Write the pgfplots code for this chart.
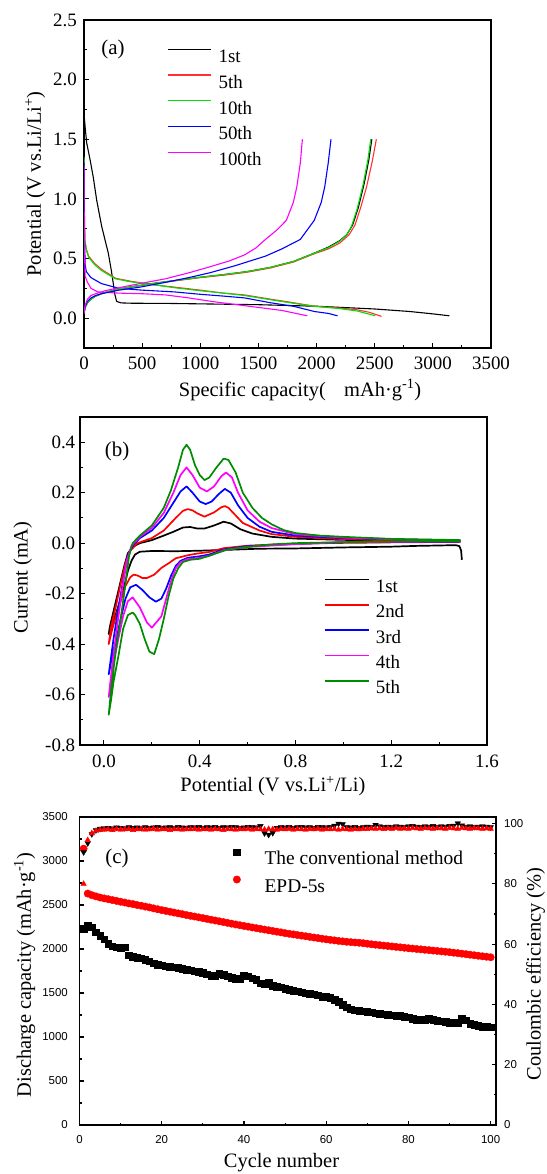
\documentclass[border=0pt]{standalone}
\usepackage{pgfplots}
\usepackage{pgfplotstable}
\pgfplotsset{compat=1.18}
\usepackage{fontspec}
\setmainfont{Liberation Serif}
\newfontfamily\sansf{Liberation Sans}
\definecolor{ared}{RGB}{255,50,50}
\definecolor{agreen}{RGB}{0,225,0}
\definecolor{bgreen}{RGB}{0,140,0}
\definecolor{mag}{RGB}{255,0,255}

\pgfplotstableread{
n conv epd ceconv ceepd
1 2230 3140 90.5 80.0
2 2270 2630 93.5 94.5
3 2250 2612 96.5 96.8
4 2190 2598 97.8 97.6
5 2150 2585 98.3 97.9
6 2110 2575 98.5 98.0
7 2060 2566 98.6 98.1
8 2030 2556 98.4 97.9
9 2020 2547 98.7 98.2
10 2015 2537 98.6 98.0
11 2020 2528 98.5 98.1
12 1930 2518 98.8 98.2
13 1910 2510 98.6 97.9
14 1900 2500 98.7 98.1
15 1895 2492 98.5 98.2
16 1880 2482 98.8 98.0
17 1860 2473 98.6 98.1
18 1840 2462 98.7 98.3
19 1825 2452 98.9 98.0
20 1815 2442 98.6 98.2
21 1805 2433 98.7 98.1
22 1800 2424 98.8 97.9
23 1795 2414 98.6 98.2
24 1790 2405 98.9 98.1
25 1775 2396 98.7 98.0
26 1765 2386 98.6 98.2
27 1760 2377 98.8 98.1
28 1750 2369 98.7 98.3
29 1745 2360 98.9 98.0
30 1730 2351 98.6 98.2
31 1715 2342 98.8 98.1
32 1700 2333 98.7 98.0
33 1695 2324 98.9 98.2
34 1720 2315 98.6 98.1
35 1710 2306 98.8 97.9
36 1690 2297 98.7 98.2
37 1675 2288 98.9 98.1
38 1665 2279 98.8 98.0
39 1660 2270 98.6 98.2
40 1700 2262 98.7 98.1
41 1690 2254 98.9 98.3
42 1670 2245 98.8 98.0
43 1650 2237 98.7 98.2
44 1610 2229 99.2 98.1
45 1600 2221 96.8 98.0
46 1620 2213 96.3 98.2
47 1580 2205 96.9 98.1
48 1570 2197 98.6 98.0
49 1565 2189 98.8 98.2
50 1550 2180 98.7 98.1
51 1535 2173 98.9 98.3
52 1525 2166 98.6 98.0
53 1520 2159 98.8 98.2
54 1510 2152 98.9 98.1
55 1500 2145 98.7 98.0
56 1495 2138 98.8 98.2
57 1485 2131 98.6 98.1
58 1475 2124 98.9 98.3
59 1460 2117 98.8 98.0
60 1455 2110 98.7 98.2
61 1445 2104 98.9 98.1
62 1425 2098 99.3 98.2
63 1400 2092 100.0 98.0
64 1370 2087 99.8 98.2
65 1340 2082 98.8 98.1
66 1315 2078 98.7 98.0
67 1305 2074 98.9 98.2
68 1300 2071 98.6 98.1
69 1295 2066 98.8 98.3
70 1290 2060 99.0 98.2
71 1280 2054 98.9 98.4
72 1270 2049 99.6 98.3
73 1265 2044 99.1 98.4
74 1260 2039 98.9 98.2
75 1255 2034 99.0 98.4
76 1250 2029 98.8 98.3
77 1245 2024 99.1 98.5
78 1240 2019 99.0 98.3
79 1230 2014 98.9 98.4
80 1225 2009 99.1 98.3
81 1210 2005 99.2 98.5
82 1200 2000 99.0 98.4
83 1200 1996 98.9 98.3
84 1200 1991 99.1 98.5
85 1205 1987 99.0 98.4
86 1195 1982 99.2 98.3
87 1185 1978 98.9 98.5
88 1180 1973 99.1 98.4
89 1175 1969 99.0 98.3
90 1165 1964 99.2 98.5
91 1160 1958 99.3 98.4
92 1160 1953 100.1 98.3
93 1215 1947 99.4 98.5
94 1190 1941 99.0 98.4
95 1150 1935 99.1 98.3
96 1140 1929 98.9 98.5
97 1130 1923 99.0 98.4
98 1120 1917 99.1 98.3
99 1115 1912 99.0 98.4
100 1110 1906 98.8 98.3
}\cyc

\pgfplotsset{
  base/.style={
    scale only axis,
    axis line style={line width=1.3bp},
    tick style={line width=1.1bp, black},
    major tick length=4.5bp, minor tick length=2.5bp,
    tick align=inside,
    /pgf/number format/assume math mode=true,
    /pgf/number format/1000 sep={},
    ticklabel style={font=\fontsize{19}{20}\selectfont},
    label style={font=\fontsize{20.5}{22}\selectfont},
    legend cell align=left,
  }
}

\begin{document}
\begin{tikzpicture}
\useasboundingbox (0,0) rectangle (547bp,1174bp);

% ---------------- (a) ----------------
\begin{axis}[base, at={(84bp,826bp)}, anchor=south west, width=407bp, height=328bp,
  xmin=0, xmax=3500, ymin=-0.25, ymax=2.5,
  xtick={0,500,1000,1500,2000,2500,3000,3500},
  minor xtick={250,750,1250,1750,2250,2750,3250},
  ytick={0,0.5,1,1.5,2,2.5}, minor ytick={0.25,0.75,1.25,1.75,2.25},
  xtick pos=bottom, ytick pos=left,
  y tick label style={/pgf/number format/.cd, fixed, fixed zerofill, precision=1, /tikz/.cd, inner sep=0pt, xshift=-7bp},
  x tick label style={inner sep=0pt, yshift=-9bp},
  xlabel={Specific capacity(\hspace{0.9em}mAh·g\textsuperscript{-1})},
  ylabel={Potential (V vs.Li/Li\textsuperscript{+})},
  xlabel style={at={(axis description cs:0.531,-0.128)}, anchor=center},
  ylabel style={at={(axis description cs:-0.120,0.5)}, anchor=center},
  legend style={at={(axis description cs:0.205,0.9125)}, anchor=north west, draw=none, fill=none,
    inner sep=0pt, outer sep=0pt, row sep=11.7bp,
    font=\fontsize{19}{20}\selectfont,
    nodes={inner sep=0pt, text height=13bp, text depth=0bp},
    /tikz/every odd column/.append style={column sep=7bp}},
  legend image code/.code={\draw[#1] (0bp,7bp) -- (43bp,7bp);},
  every axis plot/.append style={line width=1.1bp, line join=round},
]
\addplot[black] coordinates {(0,1.72)(10,1.6)(23,1.47)(52,1.33)(80,1.18)(109,0.99)(152,0.77)(209,0.545)(235,0.40)(252,0.29)(265,0.2)(281,0.14)(320,0.128)(420,0.125)(700,0.124)(1000,0.12)(1500,0.113)(2000,0.1)(2500,0.077)(2800,0.056)(3000,0.036)(3141,0.02)};
\addlegendentry{1st}
\addplot[ared] coordinates {(0,1.33)(3,0.9)(8,0.65)(20,0.58)(40,0.52)(90,0.46)(150,0.41)(270,0.335)(400,0.31)(600,0.28)(780,0.26)(1000,0.235)(1200,0.21)(1380,0.195)(1600,0.16)(1800,0.13)(1980,0.10)(2200,0.085)(2350,0.07)(2450,0.05)(2559,0.015)};
\addlegendentry{5th}
\addplot[agreen] coordinates {(0,1.35)(3,0.9)(8,0.65)(20,0.57)(40,0.51)(90,0.45)(150,0.40)(270,0.33)(400,0.305)(600,0.28)(780,0.255)(1000,0.23)(1200,0.21)(1380,0.19)(1600,0.155)(1800,0.125)(1980,0.10)(2200,0.08)(2350,0.06)(2505,0.02)};
\addlegendentry{10th}
\addplot[blue] coordinates {(0,1.30)(3,0.75)(10,0.45)(20,0.39)(60,0.34)(150,0.29)(300,0.25)(500,0.235)(780,0.22)(1000,0.20)(1200,0.185)(1380,0.17)(1600,0.13)(1800,0.1)(1980,0.056)(2100,0.04)(2180,0.02)};
\addlegendentry{50th}
\addplot[mag] coordinates {(0,1.28)(3,0.6)(10,0.35)(30,0.30)(60,0.25)(120,0.22)(300,0.21)(500,0.205)(700,0.195)(900,0.17)(1100,0.14)(1300,0.115)(1500,0.09)(1700,0.065)(1920,0.02)};
\addlegendentry{100th}
% charge branches
\addplot[black, forget plot] coordinates {(0,0.04)(10,0.09)(30,0.13)(60,0.16)(100,0.185)(150,0.205)(200,0.22)(300,0.245)(400,0.262)(600,0.292)(800,0.318)(1000,0.343)(1200,0.365)(1400,0.39)(1600,0.425)(1800,0.475)(1980,0.545)(2100,0.595)(2200,0.65)(2260,0.70)(2310,0.78)(2360,0.93)(2410,1.13)(2450,1.33)(2475,1.50)};
\addplot[ared, forget plot] coordinates {(0,0.04)(10,0.09)(30,0.13)(60,0.16)(100,0.185)(150,0.205)(200,0.22)(300,0.245)(400,0.26)(600,0.29)(800,0.315)(1000,0.34)(1200,0.36)(1400,0.385)(1600,0.42)(1800,0.47)(1980,0.54)(2100,0.58)(2200,0.63)(2280,0.70)(2330,0.78)(2380,0.93)(2430,1.10)(2480,1.32)(2514,1.50)};
\addplot[agreen, forget plot] coordinates {(0,0.04)(10,0.09)(30,0.13)(60,0.16)(100,0.185)(150,0.205)(200,0.22)(300,0.245)(400,0.262)(600,0.292)(800,0.318)(1000,0.343)(1200,0.365)(1400,0.39)(1600,0.425)(1800,0.475)(1980,0.545)(2100,0.59)(2200,0.645)(2260,0.70)(2300,0.77)(2350,0.92)(2400,1.12)(2440,1.32)(2466,1.50)};
\addplot[blue, forget plot] coordinates {(0,0.04)(10,0.1)(30,0.14)(60,0.17)(100,0.19)(150,0.205)(200,0.215)(300,0.235)(480,0.26)(700,0.30)(900,0.34)(1080,0.38)(1300,0.44)(1560,0.52)(1700,0.58)(1860,0.66)(1980,0.82)(2040,0.97)(2070,1.10)(2100,1.30)(2124,1.50)};
\addplot[mag, forget plot] coordinates {(0,0.04)(10,0.11)(30,0.16)(60,0.19)(100,0.205)(180,0.23)(300,0.255)(480,0.29)(700,0.33)(900,0.38)(1080,0.43)(1250,0.48)(1380,0.53)(1480,0.59)(1560,0.66)(1660,0.74)(1740,0.82)(1800,0.97)(1830,1.10)(1860,1.30)(1878,1.50)};
\node[font=\fontsize{21}{22}\selectfont] at (axis description cs:0.071,0.909) {(a)};
\end{axis}

% ---------------- (b) ----------------
\begin{axis}[base, at={(80bp,429bp)}, anchor=south west, width=407bp, height=328bp,
  xmin=-0.1, xmax=1.6, ymin=-0.8, ymax=0.5,
  xtick={0,0.4,0.8,1.2,1.6}, minor xtick={0.2,0.6,1.0,1.4},
  ytick={-0.8,-0.6,-0.4,-0.2,0,0.2,0.4}, minor ytick={-0.7,-0.5,-0.3,-0.1,0.1,0.3},
  xtick pos=bottom, ytick pos=left,
  y tick label style={/pgf/number format/.cd, fixed, fixed zerofill, precision=1, /tikz/.cd, inner sep=0pt, xshift=-4.6bp},
  x tick label style={/pgf/number format/.cd, fixed, fixed zerofill, precision=1, /tikz/.cd, inner sep=0pt, yshift=-10bp},
  xlabel={Potential (V vs.Li\textsuperscript{+}/Li)},
  ylabel={Current (mA)},
  xlabel style={at={(axis description cs:0.474,-0.125)}, anchor=center},
  ylabel style={at={(axis description cs:-0.141,0.511)}, anchor=center},
  legend style={at={(axis description cs:0.601,0.507)}, anchor=north west, draw=none, fill=none,
    inner sep=0pt, outer sep=0pt, row sep=11.5bp,
    font=\fontsize{19}{20}\selectfont,
    nodes={inner sep=0pt, text height=13bp, text depth=0bp},
    /tikz/every odd column/.append style={column sep=6bp}},
  legend image code/.code={\draw[#1] (0bp,6.5bp) -- (43.5bp,6.5bp);},
  every axis plot/.append style={line width=1.7bp, line join=round},
]
\addplot[black] coordinates {(1.495,-0.066)(1.492,-0.03)(1.485,-0.012)(1.47,-0.008)(1.3,-0.011)(1.2,-0.014)(1.0,-0.017)(0.9,-0.019)(0.8,-0.021)(0.65,-0.022)(0.5,-0.027)(0.4,-0.03)(0.3,-0.032)(0.2,-0.031)(0.15,-0.034)(0.13,-0.045)(0.115,-0.07)(0.10,-0.11)(0.085,-0.17)(0.07,-0.22)(0.05,-0.28)(0.035,-0.32)(0.02,-0.36)(0.025,-0.33)(0.045,-0.25)(0.065,-0.17)(0.085,-0.09)(0.10,-0.04)(0.12,-0.015)(0.15,0.0)(0.2,0.012)(0.25,0.03)(0.29,0.045)(0.33,0.062)(0.36,0.064)(0.39,0.058)(0.42,0.058)(0.46,0.07)(0.50,0.085)(0.53,0.078)(0.57,0.055)(0.62,0.038)(0.7,0.025)(0.8,0.018)(1.0,0.013)(1.2,0.01)(1.49,0.008)};
\addlegendentry{1st}
\addplot[red] coordinates {(1.49,0.005)(1.2,0.003)(1.0,0.001)(0.8,-0.002)(0.6,-0.01)(0.5,-0.02)(0.44,-0.035)(0.385,-0.042)(0.35,-0.048)(0.3,-0.06)(0.27,-0.08)(0.24,-0.098)(0.21,-0.125)(0.18,-0.138)(0.16,-0.138)(0.14,-0.128)(0.124,-0.125)(0.11,-0.135)(0.09,-0.17)(0.07,-0.23)(0.05,-0.29)(0.035,-0.34)(0.02,-0.40)(0.03,-0.33)(0.05,-0.25)(0.07,-0.16)(0.09,-0.08)(0.11,-0.03)(0.14,0.0)(0.2,0.02)(0.25,0.05)(0.3,0.1)(0.33,0.128)(0.35,0.135)(0.37,0.13)(0.39,0.118)(0.42,0.105)(0.46,0.122)(0.49,0.142)(0.505,0.147)(0.52,0.14)(0.54,0.12)(0.58,0.08)(0.65,0.05)(0.7,0.036)(0.8,0.025)(1.0,0.016)(1.2,0.011)(1.49,0.007)};
\addlegendentry{2nd}
\addplot[blue] coordinates {(1.49,0.006)(1.0,0.003)(0.8,-0.003)(0.6,-0.012)(0.5,-0.025)(0.44,-0.045)(0.40,-0.052)(0.35,-0.058)(0.32,-0.07)(0.30,-0.09)(0.28,-0.13)(0.26,-0.18)(0.24,-0.22)(0.217,-0.232)(0.19,-0.215)(0.16,-0.185)(0.134,-0.165)(0.11,-0.175)(0.09,-0.22)(0.07,-0.30)(0.05,-0.39)(0.03,-0.47)(0.02,-0.52)(0.04,-0.38)(0.06,-0.26)(0.08,-0.15)(0.10,-0.05)(0.12,-0.01)(0.15,0.02)(0.2,0.05)(0.25,0.10)(0.29,0.16)(0.32,0.205)(0.345,0.225)(0.37,0.2)(0.40,0.165)(0.425,0.155)(0.45,0.165)(0.48,0.195)(0.505,0.215)(0.53,0.2)(0.56,0.15)(0.6,0.1)(0.65,0.065)(0.7,0.045)(0.8,0.03)(1.0,0.02)(1.2,0.015)(1.49,0.01)};
\addlegendentry{3rd}
\addplot[mag] coordinates {(1.49,0.007)(1.0,0.004)(0.8,-0.004)(0.6,-0.015)(0.5,-0.028)(0.44,-0.05)(0.40,-0.058)(0.35,-0.063)(0.32,-0.075)(0.30,-0.10)(0.28,-0.15)(0.26,-0.22)(0.24,-0.29)(0.20,-0.335)(0.18,-0.315)(0.15,-0.255)(0.12,-0.215)(0.10,-0.23)(0.08,-0.29)(0.06,-0.38)(0.04,-0.48)(0.02,-0.61)(0.035,-0.48)(0.055,-0.33)(0.075,-0.19)(0.095,-0.07)(0.115,-0.01)(0.15,0.025)(0.2,0.06)(0.25,0.12)(0.29,0.2)(0.32,0.27)(0.345,0.30)(0.37,0.27)(0.40,0.22)(0.43,0.205)(0.46,0.225)(0.49,0.265)(0.51,0.28)(0.535,0.26)(0.56,0.2)(0.6,0.13)(0.65,0.085)(0.7,0.06)(0.8,0.035)(1.0,0.022)(1.2,0.016)(1.49,0.011)};
\addlegendentry{4th}
\addplot[bgreen] coordinates {(1.49,0.008)(1.2,0.006)(1.0,0.004)(0.8,0.0)(0.7,-0.005)(0.6,-0.015)(0.52,-0.024)(0.47,-0.04)(0.44,-0.05)(0.40,-0.062)(0.36,-0.066)(0.33,-0.075)(0.31,-0.10)(0.29,-0.14)(0.27,-0.21)(0.25,-0.30)(0.23,-0.38)(0.21,-0.44)(0.19,-0.43)(0.17,-0.38)(0.15,-0.32)(0.13,-0.285)(0.12,-0.275)(0.10,-0.285)(0.08,-0.34)(0.06,-0.45)(0.04,-0.55)(0.03,-0.62)(0.02,-0.68)(0.03,-0.58)(0.05,-0.42)(0.07,-0.30)(0.09,-0.16)(0.105,-0.05)(0.12,0.0)(0.15,0.03)(0.2,0.07)(0.25,0.14)(0.28,0.21)(0.31,0.30)(0.33,0.37)(0.345,0.39)(0.36,0.37)(0.38,0.31)(0.40,0.27)(0.42,0.25)(0.44,0.26)(0.47,0.30)(0.50,0.335)(0.52,0.33)(0.55,0.28)(0.58,0.20)(0.62,0.14)(0.66,0.10)(0.70,0.075)(0.75,0.052)(0.8,0.04)(0.9,0.03)(1.0,0.025)(1.2,0.017)(1.49,0.012)};
\addlegendentry{5th}
\node[font=\fontsize{21}{22}\selectfont] at (axis description cs:0.091,0.894) {(b)};
\end{axis}

% ---------------- (c) ----------------
\begin{axis}[base, at={(79.5bp,49bp)}, anchor=south west, width=416.5bp, height=308bp,
  xmin=0, xmax=101.3, ymin=0, ymax=3500,
  xtick={0,20,40,60,80,100}, minor xtick={10,30,50,70,90},
  ytick={0,500,1000,1500,2000,2500,3000,3500}, minor ytick={250,750,1250,1750,2250,2750,3250},
  xtick pos=bottom, ytick pos=left,
  ticklabel style={font=\sansf\fontsize{11.5}{12}\selectfont},
  y tick label style={inner sep=0pt, xshift=-11.5bp},
  x tick label style={inner sep=0pt, yshift=-10bp},
  xlabel={Cycle number},
  ylabel={Discharge capacity (mAh·g\textsuperscript{-1})},
  xlabel style={at={(axis description cs:0.485,-0.123)}, anchor=center},
  ylabel style={at={(axis description cs:-0.132,0.487)}, anchor=center},
  legend style={at={(axis description cs:0.369,0.897)}, anchor=north west, draw=none, fill=none,
    inner sep=0pt, outer sep=0pt, row sep=11.3bp,
    font=\fontsize{19.5}{20}\selectfont,
    nodes={inner sep=0pt, text height=13bp, text depth=0bp},
    /tikz/every odd column/.append style={column sep=24bp}},
  legend image code/.code={\draw[#1] plot coordinates {(0bp,6bp)};},
]
\addplot[only marks, mark=square*, mark size=3.3bp, black] table[x=n, y=conv] {\cyc};
\addlegendentry{The conventional method}
\addplot[only marks, mark=*, mark size=3.7bp, red] table[x=n, y=epd] {\cyc};
\addlegendentry{EPD-5s}
\node[font=\fontsize{21}{22}\selectfont] at (axis description cs:0.09,0.864) {(c)};
\end{axis}
\begin{axis}[base, at={(79.5bp,49bp)}, anchor=south west, width=416.5bp, height=308bp,
  xmin=0, xmax=101.3, ymin=0, ymax=102.2,
  xtick=\empty, axis x line=none,
  ytick={0,20,40,60,80,100}, minor ytick={10,30,50,70,90},
  ytick pos=right, yticklabel pos=right,
  ticklabel style={font=\sansf\fontsize{11.5}{12}\selectfont},
  y tick label style={inner sep=0pt, xshift=8bp},
  ylabel={Coulombic efficiency (\%)},
  ylabel style={at={(axis description cs:1.095,0.49)}, anchor=center, rotate=0},
]
\addplot[only marks, mark=triangle*, mark size=3.2bp, black, mark options={rotate=180}] table[x=n, y=ceconv] {\cyc};
\addplot[only marks, mark=triangle*, mark size=3.2bp, red] table[x=n, y=ceepd] {\cyc};
\end{axis}
\end{tikzpicture}
\end{document}
